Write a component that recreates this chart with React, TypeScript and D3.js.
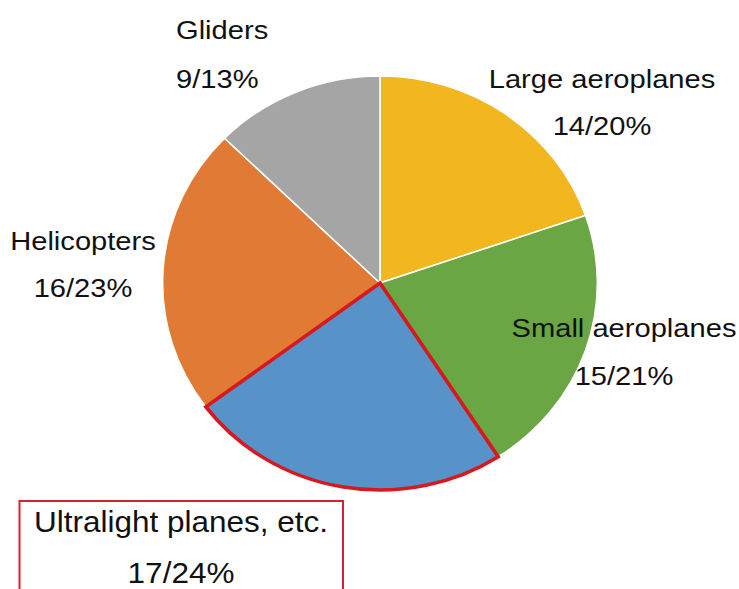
import React from "react";
import * as d3 from "d3";

const categories = ["Large aeroplanes", "Small aeroplanes", "Ultralight planes, etc.", "Helicopters", "Gliders"];
const counts = [14, 15, 17, 16, 9];
const percents = [20, 21, 24, 23, 13];
const colors = ["#F2B61F", "#6BA644", "#5792C9", "#E07A34", "#A5A5A5"];

// label layout (anchor x, baseline y of first line, font size, horizontal stretch, line gap)
const labelLayout: Record<string, { x: number; y: number; anchor: string; fs: number; sx: number; gap: number }> = {
  "Large aeroplanes": { x: 602, y: 88, anchor: "middle", fs: 26, sx: 1.12, gap: 47 },
  "Small aeroplanes": { x: 624, y: 337, anchor: "middle", fs: 26, sx: 1.12, gap: 48 },
  "Ultralight planes, etc.": { x: 181, y: 532, anchor: "middle", fs: 30, sx: 1.05, gap: 51 },
  "Helicopters": { x: 83, y: 250, anchor: "middle", fs: 26, sx: 1.12, gap: 47 },
  "Gliders": { x: 176, y: 39, anchor: "start", fs: 26, sx: 1.12, gap: 49 },
};

export default function App() {
  const W = 739, H = 589;
  const cx = 380, cy = 283, r = 207, sx = 1.05;
  const data = categories.map((c, i) => ({ c, v: counts[i], p: percents[i], color: colors[i] }));
  const pie = d3.pie<any>().sort(null).value((d) => d.v);
  const arcs = pie(data);
  const arc = d3.arc<any>().innerRadius(0).outerRadius(r);
  return (
    <svg width={W} height={H} style={{ position: "absolute", left: 0, top: 0, background: "#fff" }}
      fontFamily="'Liberation Sans', Arial, sans-serif">
      <g transform={`translate(${cx},${cy}) scale(${sx},1)`}>
        {arcs.map((a, i) => (
          <path key={i} d={arc(a) as string} fill={a.data.color} stroke="#fff" strokeWidth={1.5} />
        ))}
        {arcs.filter((a) => a.data.c === "Ultralight planes, etc.").map((a, i) => (
          <path key={"h" + i} d={arc(a) as string} fill="none" stroke="#D7191F" strokeWidth={3.5} strokeLinejoin="miter" />
        ))}
      </g>
      <rect x={19.5} y={501} width={323.5} height={120} fill="none" stroke="#D7232B" strokeWidth={2} />
      {data.map((d, i) => {
        const L = labelLayout[d.c];
        return (
          <g key={i} fill="#111" fontSize={L.fs}>
            <text transform={`translate(${L.x},${L.y}) scale(${L.sx},1)`} textAnchor={L.anchor}>{d.c}</text>
            <text transform={`translate(${L.x},${L.y + L.gap}) scale(${L.sx},1)`} textAnchor={L.anchor}>{`${d.v}/${d.p}%`}</text>
          </g>
        );
      })}
    </svg>
  );
}
